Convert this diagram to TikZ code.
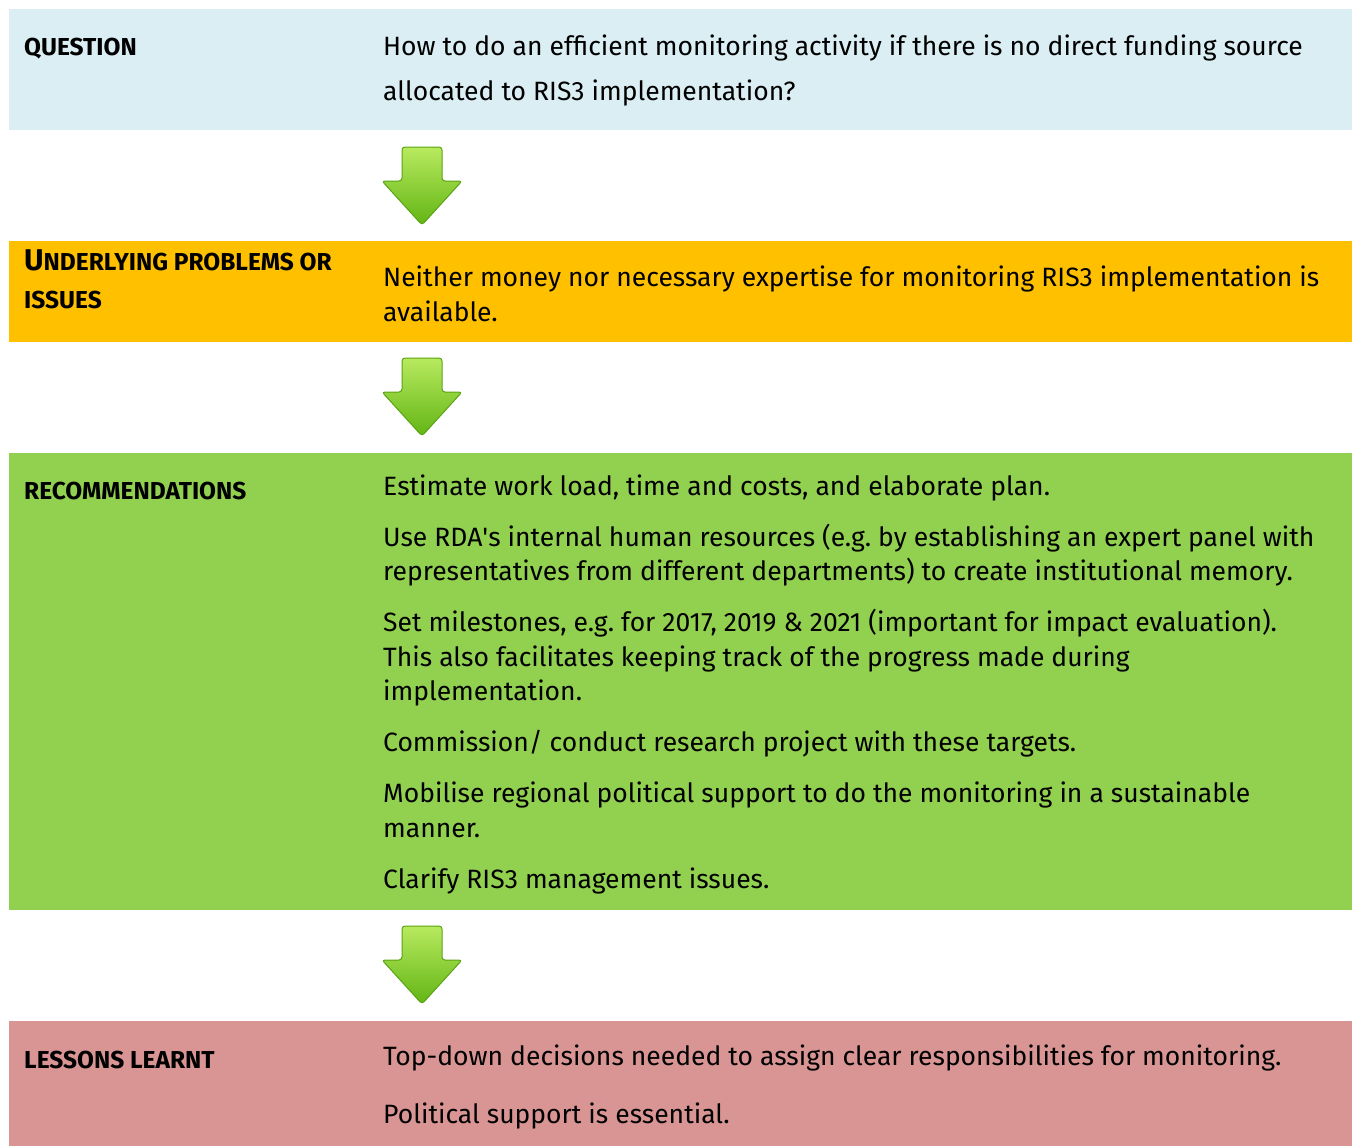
\documentclass[tikz,border=0pt]{standalone}
\usepackage{fontspec}
\setmainfont{Fira Sans}
\newfontfamily\labelfont{Fira Sans}
\frenchspacing

\definecolor{questionblue}{HTML}{DAEEF3}
\definecolor{problemorange}{HTML}{FFC000}
\definecolor{recgreen}{HTML}{92D050}
\definecolor{lessonred}{HTML}{D99594}
\definecolor{arrowlight}{HTML}{B8EA5E}
\definecolor{arrowdark}{HTML}{62B515}
\definecolor{arrowedge}{HTML}{5AA312}

\tikzset{
  heading/.style = {anchor = base west, inner sep = 0pt, align = left,
                    font = \labelfont\bfseries\fontsize{24.5}{38}\selectfont},
  body/.style = {anchor = base west, inner sep = 0pt, align = left,
                 font = \fontsize{26.5}{34.5}\selectfont},
  greenarrow/.pic = {
    \shade[top color = arrowlight, bottom color = arrowdark,
           draw = arrowedge, line width = 1pt, rounded corners = 3pt]
      (-20, 0) -- (20, 0) -- (20, 34) -- (40, 34) -- (0, 78)
      -- (-40, 34) -- (-20, 34) -- cycle;
  }
}

\begin{document}
\begin{tikzpicture}[x = 1pt, y = -1pt]
\useasboundingbox (0, 0) rectangle (1353, 1146);

% the bands
\fill[questionblue]  (9, 9)    rectangle (1352, 130);
\fill[problemorange] (9, 241)  rectangle (1352, 342);
\fill[recgreen]      (9, 453)  rectangle (1352, 910);
\fill[lessonred]     (9, 1021) rectangle (1352, 1146);

% the arrows between them
\foreach \y in {147, 358, 926}
  \pic at (422, \y) {greenarrow};

% left column (a node's base is its last line)
\node[heading] (question) at (24, 55) {QUESTION};
\node[heading] (problems) at (24, 308)
  {{\fontsize{30}{38}\selectfont U}{\fontsize{24.5}{38}\selectfont NDERLYING PROBLEMS OR}\\
   {\fontsize{24.5}{38}\selectfont ISSUES}};
\node[heading] (recs) at (24, 499) {RECOMMENDATIONS};
\node[heading] (lessons) at (24, 1068) {LESSONS LEARNT};

% right column
\node[body, font = \fontsize{26.5}{45}\selectfont] (questiontext) at (383, 100)
  {How to do an efficient monitoring activity if there is no direct funding source\\
   allocated to RIS3 implementation?};
\node[body] (problemstext) at (383, 321)
  {Neither money nor necessary expertise for monitoring RIS3 implementation is\\
   available.};
\node[body] (recstext) at (383, 888)
  {Estimate work load, time and costs, and elaborate plan.\\[16.5pt]
   Use RDA\textquotesingle s internal human resources (e.g. by establishing an expert panel with\\
   representatives from different departments) to create institutional memory.\\[16.5pt]
   Set milestones, e.g. for 2017, 2019 \& 2021 (important for impact evaluation).\\
   This also facilitates keeping track of the progress made during\\
   implementation.\\[16.5pt]
   Commission/ conduct research project with these targets.\\[16.5pt]
   Mobilise regional political support to do the monitoring in a sustainable\\
   manner.\\[16.5pt]
   Clarify RIS3 management issues.};
\node[body, font = \fontsize{26.5}{58}\selectfont] (lessonstext) at (383, 1123)
  {Top-down decisions needed to assign clear responsibilities for monitoring.\\
   Political support is essential.};

\end{tikzpicture}
\end{document}
